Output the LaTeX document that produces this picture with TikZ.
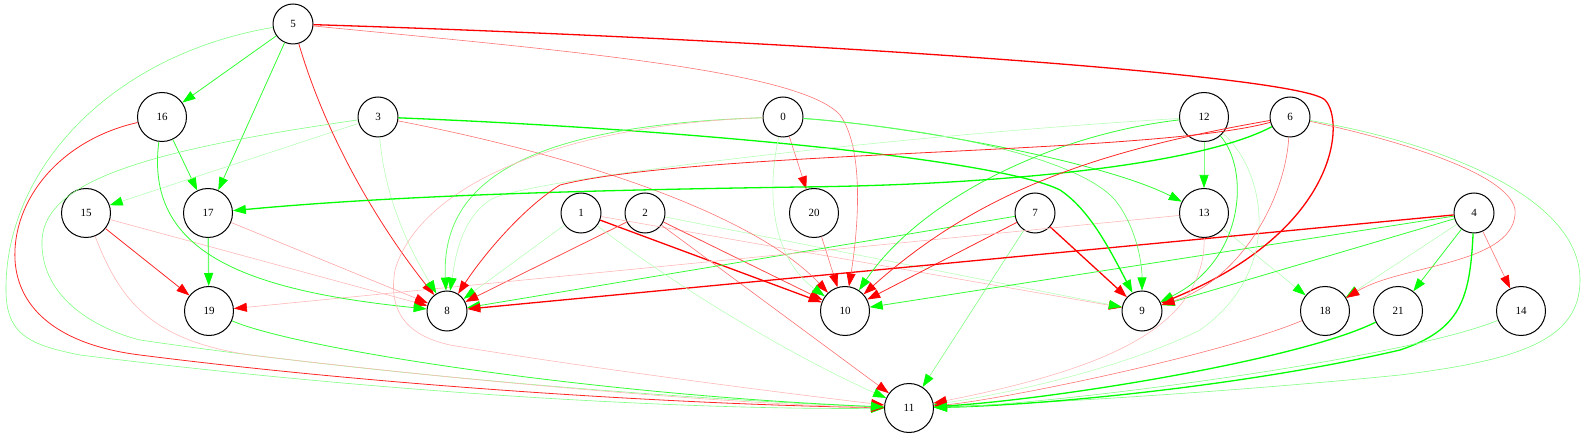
\documentclass[tikz,border=0pt]{standalone}
\usepackage{fontspec}
\setmainfont{Liberation Serif}
\usetikzlibrary{arrows.meta}

\begin{document}
\begin{tikzpicture}[->,>={Triangle[length=13pt,width=9pt]},x=1pt,y=-1pt]
  \tikzstyle{place}=[circle,draw=black,line width=1pt,minimum size=40pt,inner sep=0pt,font=\fontsize{11}{13}\selectfont]
  \tikzstyle{wide place}=[place,minimum size=49pt]
  \tikzstyle{red tip}=[>={Triangle[length=13pt,width=9pt,red]}]
  \tikzstyle{green tip}=[>={Triangle[length=13pt,width=9pt,green]}]
  \tikzstyle{strong red}=[red tip,draw=red,line width=1.3pt]
  \tikzstyle{red edge}=[red tip,draw=red!85,line width=0.8pt]
  \tikzstyle{mid red}=[red tip,draw=red!70,line width=0.8pt]
  \tikzstyle{pale red}=[red tip,draw=red!55,line width=0.6pt]
  \tikzstyle{light red}=[red tip,draw=red!35,line width=0.6pt]
  \tikzstyle{faint red}=[red tip,draw=red!28,line width=0.6pt]
  \tikzstyle{strong green}=[green tip,draw=green,line width=1.3pt]
  \tikzstyle{green edge}=[green tip,draw=green!80,line width=0.8pt]
  \tikzstyle{mid green}=[green tip,draw=green!60,line width=0.8pt]
  \tikzstyle{pale green}=[green tip,draw=green!50,line width=0.6pt]
  \tikzstyle{faint green}=[green tip,draw=green!28,line width=0.6pt]

  \useasboundingbox (0,0) rectangle (1585,438);

  % top rows
  \node[place] (n5) at (293,24) {5};
  \node[wide place] (n16) at (162,117) {16};
  \node[place] (n3) at (378,117) {3};
  \node[place] (n0) at (783,117) {0};
  \node[wide place] (n12) at (1204,117) {12};
  \node[place] (n6) at (1290,117) {6};
  \node[wide place] (n15) at (86,213) {15};
  \node[wide place] (n17) at (208,213) {17};
  \node[place] (n1) at (581,213) {1};
  \node[place] (n2) at (645,213) {2};
  \node[wide place] (n20) at (814,213) {20};
  \node[place] (n7) at (1035,213) {7};
  \node[wide place] (n13) at (1204,213) {13};
  \node[place] (n4) at (1474,213) {4};
  % bottom rows
  \node[wide place] (n19) at (209,311) {19};
  \node[place] (n8) at (447,311) {8};
  \node[wide place] (n10) at (845,311) {10};
  \node[place] (n9) at (1142,311) {9};
  \node[wide place] (n18) at (1325,311) {18};
  \node[wide place] (n21) at (1398,311) {21};
  \node[wide place] (n14) at (1521,311) {14};
  \node[wide place] (n11) at (909,408) {11};

  % straight edges
  \path (n5) edge [green edge] (n16)
             edge [green edge] (n17)
        (n16) edge [green edge] (n17)
        (n3) edge [faint green] (n15)
        (n0) edge [pale red] (n20)
        (n12) edge [pale green] (n13)
        (n15) edge [red edge] (n19)
              edge [faint red] (n8)
        (n17) edge [mid green,line width=1.2pt] (n19)
              edge [light red] (n8)
        (n1) edge [faint green] (n8)
             edge [strong red] (n10)
             edge [faint red] (n9)
        (n2) edge [mid red] (n8)
             edge [mid red] (n10)
             edge [pale red] (n11)
             edge [faint green] (n9)
        (n20) edge [pale red] (n10)
        (n7) edge [strong red] (n9)
             edge [red edge] (n10)
             edge [green edge] (n8)
             edge [pale green] (n11)
        (n13) edge [faint red] (n19)
              edge [faint green] (n18)
        (n4) edge [strong red] (n8)
             edge [green edge] (n10)
             edge [green edge] (n9)
             edge [faint green] (n18)
             edge [green edge] (n21)
             edge [pale red] (n14);

  % curved edges from 5
  \draw[red edge] (n5) .. controls (330,150) and (390,240) .. (n8);
  \draw[pale red] (n5) .. controls (560,50) and (800,70) .. (840,115) .. controls (865,150) and (858,230) .. (n10);
  \draw[strong red] (n5) .. controls (800,40) and (1300,75) .. (1325,100) .. controls (1345,120) and (1340,230) .. (n9);
  \draw[pale green] (n5) .. controls (110,55) and (5,170) .. (6,290) .. controls (6,335) and (30,345) .. (80,355) .. controls (400,395) and (700,410) .. (n11);
  % from 16, 3, 15
  \draw[green edge] (n16) .. controls (145,250) and (240,290) .. (n8);
  \draw[red edge] (n16) .. controls (60,140) and (12,200) .. (15,260) .. controls (18,310) and (60,345) .. (140,355) .. controls (400,388) and (700,405) .. (n11);
  \draw[strong green] (n3) .. controls (700,130) and (1000,160) .. (1060,190) .. controls (1090,210) and (1110,250) .. (n9);
  \draw[pale red] (n3) .. controls (600,160) and (760,220) .. (n10);
  \draw[faint green] (n3) .. controls (385,200) and (410,250) .. (n8);
  \draw[pale green] (n3) .. controls (150,150) and (45,180) .. (42,240) .. controls (40,300) and (100,330) .. (140,340) .. controls (400,378) and (700,400) .. (n11);
  \draw[faint red] (n15) .. controls (120,300) and (150,340) .. (250,355) .. controls (500,385) and (750,405) .. (n11);
  % from 0
  \draw[green edge] (n0) .. controls (900,125) and (1100,160) .. (n13);
  \draw[mid green,line width=0.7pt] (n0) .. controls (950,130) and (1080,160) .. (1115,200) .. controls (1135,225) and (1142,260) .. (n9);
  \draw[mid green] (n0) .. controls (550,125) and (440,170) .. (n8);
  \draw[faint red] (n0) .. controls (560,125) and (420,185) .. (395,270) .. controls (388,310) and (405,335) .. (450,345) .. controls (600,370) and (800,395) .. (n11);
  \draw[faint green] (n0) .. controls (765,200) and (775,260) .. (n10);
  % from 12
  \draw[green edge] (n12) .. controls (1050,135) and (920,200) .. (n10);
  \draw[faint green] (n12) .. controls (900,135) and (520,180) .. (490,200) .. controls (460,220) and (455,260) .. (n8);
  \draw[green edge] (n12) .. controls (1250,170) and (1245,260) .. (n9);
  \draw[faint green] (n12) .. controls (1265,170) and (1285,270) .. (1200,330) .. controls (1120,370) and (1000,395) .. (n11);
  % from 6
  \draw[strong green] (n6) .. controls (1200,165) and (1000,185) .. (800,187) .. controls (600,190) and (400,195) .. (n17);
  \draw[red edge] (n6) .. controls (1150,155) and (700,150) .. (560,185) .. controls (520,210) and (480,260) .. (n8);
  \draw[red edge] (n6) .. controls (1100,150) and (980,190) .. (n10);
  \draw[pale red] (n6) .. controls (1285,200) and (1240,280) .. (n9);
  \draw[pale red] (n6) .. controls (1420,145) and (1520,180) .. (1515,215) .. controls (1510,265) and (1400,265) .. (n18);
  \draw[pale green] (n6) .. controls (1450,145) and (1580,200) .. (1580,280) .. controls (1580,340) and (1520,360) .. (1400,375) .. controls (1200,395) and (1000,405) .. (n11);
  % into 11
  \draw[faint green] (n1) .. controls (680,290) and (800,360) .. (n11);
  \draw[faint red] (n13) .. controls (1205,330) and (1100,370) .. (n11);
  \draw[strong green] (n4) .. controls (1470,300) and (1460,330) .. (1400,350) .. controls (1250,385) and (1050,405) .. (n11);
  \draw[strong green] (n21) .. controls (1300,360) and (1050,400) .. (n11);
  \draw[pale red] (n18) .. controls (1220,355) and (1000,400) .. (n11);
  \draw[pale green] (n14) .. controls (1400,360) and (1050,405) .. (n11);
  \draw[green edge] (n19) .. controls (300,350) and (600,395) .. (n11);
\end{tikzpicture}
\end{document}
